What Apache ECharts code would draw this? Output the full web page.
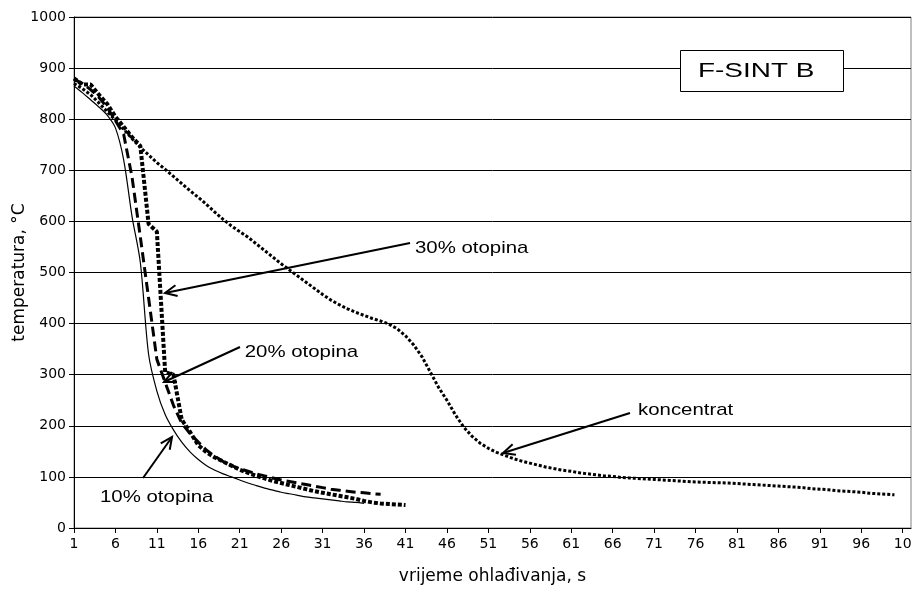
<!DOCTYPE html>
<html><head><meta charset="utf-8">
<script src="https://cdn.jsdelivr.net/npm/echarts@6/dist/echarts.min.js"></script>
<style>html,body{margin:0;padding:0;background:#fff}#c{width:919px;height:601px}</style>
</head><body><div id="c"></div>
<script>
// Temperatures (°C) per second, starting at t = 1 s
const otopina10 = [865, 852, 838, 824, 808, 783, 720, 610, 520, 340, 268, 222, 192, 168, 149, 134, 122, 113, 106, 100, 94, 88, 83, 78, 74, 70, 67, 64, 61, 59, 57, 55, 53, 51, 50, 48];
const otopina20 = [878, 870, 858, 843, 823, 797, 770, 687, 570, 450, 330, 285, 240, 205, 185, 168, 152, 140, 130, 122, 116, 111, 106, 102, 98, 94, 91, 88, 85, 82, 79, 76, 74, 72, 70, 69, 67, 66];
const otopina30 = [880, 868, 868, 848, 830, 805, 785, 765, 748, 595, 580, 305, 300, 212, 188, 162, 148, 138, 130, 122, 114, 108, 102, 97, 92, 88, 84, 80, 76, 72, 69, 66, 63, 60, 57, 53, 50, 48, 47, 46, 45];
const koncentrat = [870, 860, 848, 832, 815, 798, 780, 762, 745, 730,
  715, 702, 688, 674, 660, 647, 633, 618, 604, 591,
  580, 569, 556, 543, 530, 517, 505, 493, 481, 469,
  457, 446, 437, 429, 422, 416, 410, 405, 399, 390,
  376, 358, 335, 305, 275, 250, 222, 198, 180, 166,
  156, 148, 142, 136, 131, 127, 123, 119, 116, 113,
  111, 108, 106, 104, 102, 101, 99, 98, 97, 96,
  95, 94, 93, 92, 91, 90, 89.5, 89, 88.5, 88,
  87, 86, 85, 84, 83, 82, 81, 80, 79, 77,
  76, 75, 73, 72, 71, 70, 68, 67, 66, 65];

const xTickValues = [1, 6, 11, 16, 21, 26, 31, 36, 41, 46, 51, 56, 61, 66, 71, 76, 81, 86, 91, 96, 101];
const xTickLabels = ['1', '6', '11', '16', '21', '26', '31', '36', '41', '46', '51', '56', '61', '66', '71', '76', '81', '86', '91', '96', '10'];

// Callouts in data coordinates [t, °C]
const calloutTexts = ['30% otopina', '20% otopina', '10% otopina', 'koncentrat'];
const calloutTextAt = [[42.15, 548], [21.6, 344], [4.14, 60.7], [69.06, 231]];
const calloutFrom = [[41.55, 557.7], [21.03, 354.2], [9.33, 97.8], [68.09, 225]];
const calloutTo = [[11.98, 459.9], [11.86, 285.7], [12.83, 178.1], [52.77, 146.8]];

const toPairs = arr => arr.map((v, i) => [i + 1, v]);
const FONT = '"Liberation Sans", Arial, sans-serif';
const WIDE = '"DejaVu Sans", sans-serif';

const chart = echarts.init(document.getElementById('c'), null, {renderer: 'canvas'});
const option = {
  animation: false,
  backgroundColor: '#fff',
  grid: {left: 74, right: 8, top: 17, bottom: 73, containLabel: false, outerBoundsMode: 'none',
    show: true, borderColor: '#808080', borderWidth: 1},
  xAxis: {
    type: 'value', min: 1, max: 102,
    name: 'vrijeme ohlađivanja, s', nameLocation: 'middle', nameGap: 40, nameMoveOverlap: false,
    nameTextStyle: {fontFamily: WIDE, fontSize: 17, color: '#000'},
    axisLine: {show: true, onZero: false, lineStyle: {color: '#000', width: 1}},
    axisTick: {show: true, length: 5, customValues: xTickValues, lineStyle: {color: '#000'}},
    axisLabel: {customValues: xTickValues, fontFamily: WIDE, fontSize: 14, color: '#000', margin: 9,
      formatter: v => xTickLabels[xTickValues.indexOf(v)] ?? ''},
    splitLine: {show: false}
  },
  yAxis: {
    type: 'value', min: 0, max: 1000, interval: 100,
    name: 'temperatura, °C', nameLocation: 'middle', nameGap: 46, nameMoveOverlap: false,
    nameTextStyle: {fontFamily: WIDE, fontSize: 17, color: '#000'},
    axisLine: {show: true, lineStyle: {color: '#000', width: 1}},
    axisTick: {show: true, length: 5, lineStyle: {color: '#000'}},
    axisLabel: {fontFamily: WIDE, fontSize: 14, color: '#000', margin: 8, formatter: v => String(v)},
    splitLine: {show: true, lineStyle: {color: '#000', width: 1}}
  },
  series: [
    {name: 'koncentrat', type: 'line', data: toPairs(koncentrat), showSymbol: false,
      lineStyle: {color: '#000', width: 3, type: [3, 2]}},
    {name: '10% otopina', type: 'line', data: toPairs(otopina10), showSymbol: false, smooth: 0.3,
      lineStyle: {color: '#000', width: 1.2}},
    {name: '20% otopina', type: 'line', data: toPairs(otopina20), showSymbol: false,
      lineStyle: {color: '#000', width: 3, type: [10, 5]}},
    {name: '30% otopina', type: 'line', data: toPairs(otopina30), showSymbol: false,
      lineStyle: {color: '#000', width: 4, type: [4, 2]}}
  ]
};
chart.setOption(option);

function buildGraphics() {
  const els = [];
  for (let i = 0; i < calloutTexts.length; i++) {
    const a = chart.convertToPixel({gridIndex: 0}, calloutFrom[i]);
    const b = chart.convertToPixel({gridIndex: 0}, calloutTo[i]);
    const dx = a[0] - b[0], dy = a[1] - b[1];
    const len = Math.hypot(dx, dy), ux = dx / len, uy = dy / len;
    const ang = 25 * Math.PI / 180, L = 13;
    const r = (s) => [b[0] + L * (ux * Math.cos(s * ang) - uy * Math.sin(s * ang)),
                      b[1] + L * (ux * Math.sin(s * ang) + uy * Math.cos(s * ang))];
    els.push({type: 'line', shape: {x1: a[0], y1: a[1], x2: b[0], y2: b[1]},
      style: {stroke: '#000', lineWidth: 2}, z: 100});
    els.push({type: 'polyline', shape: {points: [r(1), b, r(-1)]},
      style: {stroke: '#000', lineWidth: 2, fill: null}, z: 100});
    const t = chart.convertToPixel({gridIndex: 0}, calloutTextAt[i]);
    els.push({type: 'text', x: t[0], y: t[1], scaleX: 1.2, z: 100,
      style: {text: calloutTexts[i], font: '17px ' + FONT, fill: '#000', textAlign: 'left', textVerticalAlign: 'middle'}});
  }
  els.push({type: 'rect', shape: {x: 680.5, y: 50.5, width: 163, height: 41},
    style: {fill: '#fff', stroke: '#000', lineWidth: 1}, z: 100});
  els.push({type: 'text', x: 698, y: 71, scaleX: 1.33, z: 101,
    style: {text: 'F-SINT B', font: '21px ' + FONT, fill: '#000', textAlign: 'left', textVerticalAlign: 'middle'}});
  chart.setOption({graphic: els});
}
buildGraphics();
</script></body></html>
